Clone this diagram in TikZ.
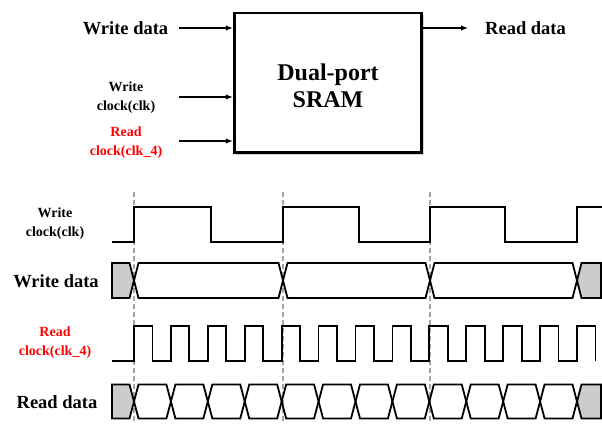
\documentclass[tikz,border=0pt]{standalone}
\usepackage{fontspec}
\setmainfont{Liberation Serif}
\usetikzlibrary{arrows.meta,shadows}
\begin{document}
\begin{tikzpicture}[x=1pt,y=-1pt,
  lbl/.style={font=\bfseries\fontsize{18.5}{20}\selectfont, inner sep=0pt},
  small/.style={font=\bfseries\fontsize{14}{19}\selectfont, align=center, inner sep=0pt},
  title/.style={font=\bfseries\fontsize{24}{27}\selectfont, align=center, inner sep=0pt},
  arr/.style={-{Latex[length=7pt,width=5.5pt]}, line width=1.2pt},
  wave/.style={line width=1.8pt, line join=miter},
  guide/.style={black!35, line width=1.2pt, dash pattern=on 5pt off 3pt},
  grayfill/.style={wave, fill=black!20},
  redt/.style={text=red}]
\useasboundingbox (0,0) rectangle (602,423);

% ---------- block diagram ----------
\node[draw, line width=2.8pt, fill=white, minimum width=187.6pt, minimum height=139.7pt, inner sep=0pt,
      drop shadow={opacity=0.35, shadow xshift=2pt, shadow yshift=-2pt}] (sram) at (328,82.9) {};
\node[title] (ttl) at (328,85.5) {Dual-port\\SRAM};

\node[lbl] (wdin) at (125.5,28) {Write data};
\node[small] (wcin) at (126,97.5) {Write\\clock(clk)};
\node[small, redt] (rcin) at (126,142.5) {Read\\clock(clk\_4)};
\node[lbl, anchor=west] (rdout) at (485,28) {Read data};

\coordinate (wdS) at (179,28);
\coordinate (wcS) at (179,97);
\coordinate (rcS) at (179,141);
\coordinate (rdE) at (468,28);
\draw[arr] (wdS) -- (sram.west |- wdS);
\draw[arr] (wcS) -- (sram.west |- wcS);
\draw[arr] (rcS) -- (sram.west |- rcS);
\draw[arr] (sram.east |- rdE) -- (rdE);

% ---------- timing diagram ----------
\foreach \x in {134,283,430}{
  \draw[guide] (\x,192) -- (\x,423);
}

\node[small] (twc) at (55,223.5) {Write\\clock(clk)};
\node[lbl] (twd) at (56,281) {Write data};
\node[small, redt] (trc) at (55,342.5) {Read\\clock(clk\_4)};
\node[lbl] (trd) at (57,402) {Read data};

% write clock
\draw[wave] (112,242) -- (134,242) -- (134,207) -- (211,207) -- (211,242) -- (283,242) -- (283,207)
  -- (359,207) -- (359,242) -- (430,242) -- (430,207) -- (505,207) -- (505,242) -- (577,242)
  -- (577,207) -- (602,207);

% write data
\draw[grayfill] (112,263) -- (129.5,263) -- (134,280.5) -- (129.5,298) -- (112,298) -- cycle;
\foreach \a/\b in {134/283,283/430,430/577}{
  \draw[wave] (\a,280.5) -- (\a+4.5,263) -- (\b-4.5,263) -- (\b,280.5) -- (\b-4.5,298) -- (\a+4.5,298) -- cycle;
}
\draw[grayfill] (577,280.5) -- (581.5,263) -- (601,263) -- (601,298) -- (581.5,298) -- cycle;

% read clock
\def\P{36.9167}
\draw[wave] (112,361) foreach \k in {0,...,12}{
  -- ({134+\k*\P},361) -- ({134+\k*\P},326) -- ({134+(\k+0.5)*\P},326) -- ({134+(\k+0.5)*\P},361) };

% read data
\draw[grayfill] (112,384.5) -- (129.5,384.5) -- (134,401.5) -- (129.5,418.5) -- (112,418.5) -- cycle;
\foreach \k in {0,...,11}{
  \pgfmathsetmacro\a{134+\k*\P}
  \pgfmathsetmacro\b{134+(\k+1)*\P}
  \draw[wave] (\a,401.5) -- (\a+4.5,384.5) -- (\b-4.5,384.5) -- (\b,401.5) -- (\b-4.5,418.5) -- (\a+4.5,418.5) -- cycle;
}
\draw[grayfill] (577,401.5) -- (581.5,384.5) -- (601,384.5) -- (601,418.5) -- (581.5,418.5) -- cycle;
\end{tikzpicture}
\end{document}
